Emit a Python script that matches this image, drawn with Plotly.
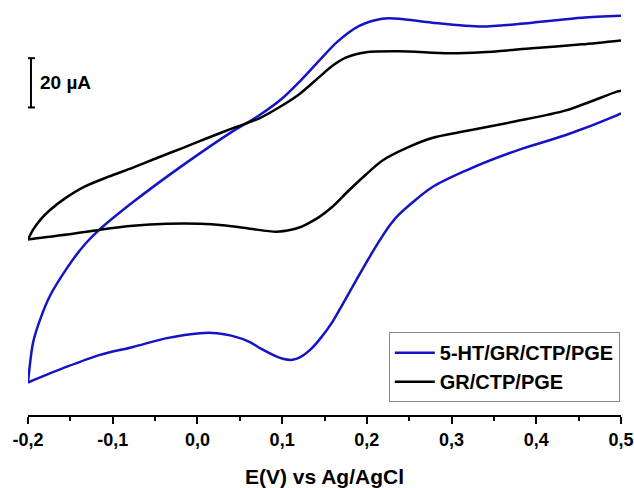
import plotly.graph_objects as go

# Potential (V) and current (µA, arbitrary offset)
# 5-HT/GR/CTP/PGE : anodic (forward) and cathodic (reverse) branches
e_ht_fwd = [-0.200, -0.194, -0.185, -0.174, -0.154, -0.135, -0.115, -0.076, -0.017, 0.042, 0.073,
            0.100, 0.121, 0.144, 0.165, 0.191, 0.218, 0.238, 0.277, 0.336, 0.395, 0.454, 0.500]
i_ht_fwd = [4.8, 21.0, 31.0, 40.0, 51.2, 60.0, 67.0, 78.0, 93.0, 106.8, 113.2,
            120.0, 127.0, 135.5, 143.0, 149.5, 152.4, 152.4, 150.8, 149.2, 150.8, 152.8, 153.6]
e_ht_rev = [0.500, 0.495, 0.435, 0.376, 0.317, 0.277, 0.238, 0.228, 0.218, 0.208, 0.199, 0.179,
            0.159, 0.145, 0.133, 0.122, 0.112, 0.102, 0.093, 0.075, 0.062, 0.040, 0.023, 0.003,
            -0.036, -0.076, -0.115, -0.154, -0.200]
i_ht_rev = [114.0, 113.2, 105.2, 98.8, 90.8, 84.0, 73.0, 69.0, 64.0, 58.5, 53.2, 41.2,
            29.2, 22.6, 18.0, 15.2, 14.0, 14.3, 15.4, 18.5, 21.2, 23.8, 24.8, 24.8,
            22.8, 19.2, 16.0, 11.2, 4.8]

# GR/CTP/PGE
e_bl_fwd = [-0.200, -0.194, -0.185, -0.174, -0.155, -0.135, -0.105, -0.076, -0.047, -0.017, 0.012,
            0.042, 0.073, 0.100, 0.121, 0.144, 0.159, 0.175, 0.199, 0.238, 0.297, 0.336, 0.395,
            0.454, 0.500]
i_bl_fwd = [62.8, 66.8, 71.0, 74.8, 79.8, 84.0, 88.3, 92.0, 96.0, 100.0, 104.0,
            108.0, 112.0, 117.2, 122.0, 128.8, 133.2, 136.6, 138.8, 139.2, 138.4, 138.8, 140.4,
            142.0, 143.6]
e_bl_rev = [0.500, 0.495, 0.435, 0.376, 0.317, 0.277, 0.247, 0.218, 0.199, 0.179, 0.159, 0.144,
            0.132, 0.121, 0.112, 0.093, 0.062, 0.030, 0.003, -0.036, -0.076, -0.115, -0.154, -0.200]
i_bl_rev = [123.2, 122.8, 115.2, 110.8, 106.8, 104.0, 100.0, 94.8, 89.2, 82.8, 76.0, 72.0,
            69.6, 67.8, 66.9, 66.0, 67.2, 68.6, 69.2, 69.2, 68.4, 66.8, 64.8, 62.8]

tick_vals = [-0.2, -0.1, 0.0, 0.1, 0.2, 0.3, 0.4, 0.5]
tick_text = ["-0,2", "-0,1", "0,0", "0,1", "0,2", "0,3", "0,4", "0,5"]

FONT = "Arial, Liberation Sans, sans-serif"


def cycle(e_f, i_f, e_r, i_r):
    # reverse sweep starts after a gap at the switching potential, joins at -0.2 V
    return list(reversed(e_f)) + [None] + e_r, list(reversed(i_f)) + [None] + i_r


x_ht, y_ht = cycle(e_ht_fwd, i_ht_fwd, e_ht_rev, i_ht_rev)
x_bl, y_bl = cycle(e_bl_fwd, i_bl_fwd, e_bl_rev, i_bl_rev)

fig = go.Figure()
fig.add_trace(go.Scatter(x=x_ht, y=y_ht, mode="lines", name="5-HT/GR/CTP/PGE", connectgaps=False,
                         line=dict(color="#1414c4", width=2.5, shape="spline", smoothing=0.8)))
fig.add_trace(go.Scatter(x=x_bl, y=y_bl, mode="lines", name="GR/CTP/PGE", connectgaps=False,
                         line=dict(color="#000000", width=2.5, shape="spline", smoothing=0.8)))

# scale bar 20 µA
bx = -0.1965
fig.add_shape(type="line", x0=bx, x1=bx, y0=116.4, y1=136.4, line=dict(color="black", width=2))
fig.add_shape(type="line", x0=bx - 0.0047, x1=bx + 0.0047, y0=136.4, y1=136.4, line=dict(color="black", width=2))
fig.add_shape(type="line", x0=bx - 0.0047, x1=bx + 0.0047, y0=116.4, y1=116.4, line=dict(color="black", width=2))
fig.add_annotation(x=-0.1885, y=126.4, text="20 µA", showarrow=False, xanchor="left", yanchor="middle",
                   font=dict(family=FONT, size=19, color="black", weight="bold"))

fig.update_layout(
    width=634, height=488,
    margin=dict(l=28, r=12, t=0, b=67),
    paper_bgcolor="white", plot_bgcolor="white",
    showlegend=True,
    legend=dict(x=0.998, y=0.031, xanchor="right", yanchor="bottom",
                bordercolor="#888888", borderwidth=1, bgcolor="white",
                font=dict(family=FONT, size=20, color="black", weight="bold"),
                tracegroupgap=0, itemwidth=40),
    xaxis=dict(range=[-0.2, 0.5], tickvals=tick_vals, ticktext=tick_text,
               showline=True, linecolor="black", linewidth=2, ticks="outside", ticklen=7,
               tickwidth=2, tickcolor="black", showgrid=False, zeroline=False,
               ticklabeloverflow="allow",
               minor=dict(dtick=0.05, tick0=-0.2, ticks="outside", ticklen=4, tickwidth=2, tickcolor="black"),
               tickfont=dict(family=FONT, size=18, color="black", weight="bold"),
               title=dict(text="E(V) vs Ag/AgCl", standoff=24,
                          font=dict(family=FONT, size=21, color="black", weight="bold"))),
    yaxis=dict(range=[-8.4, 160], visible=False, showgrid=False, zeroline=False),
)

fig.write_html("out.html")
